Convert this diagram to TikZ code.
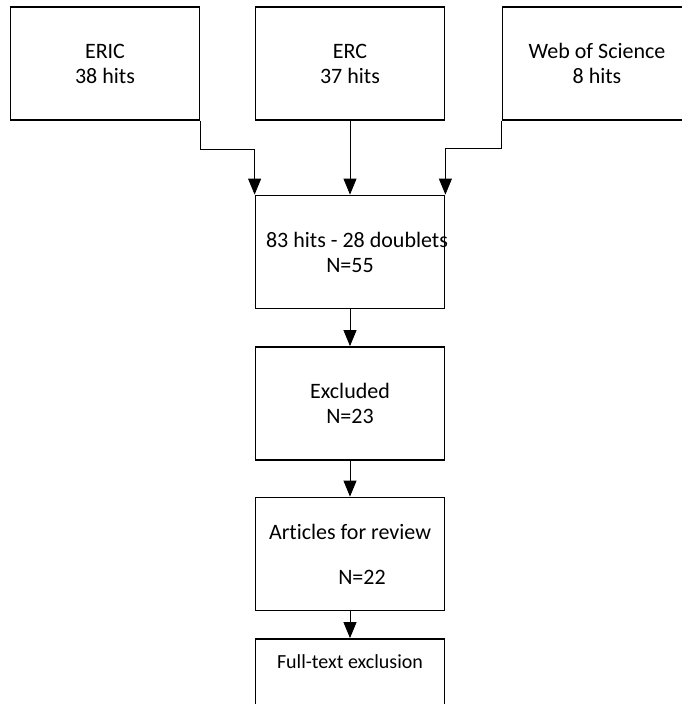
\documentclass[tikz,border=0pt]{standalone}
\usepackage{fontspec}
\setmainfont{Carlito}[Ligatures=NoCommon]
\usetikzlibrary{arrows.meta}
\tikzset{
    source/.style = {rectangle, minimum width=189pt, minimum height=113pt, align=center, draw=black, line width=1.8pt, font=\fontsize{22}{25}\selectfont},
    process/.style = {rectangle, minimum width=189pt, minimum height=113pt, align=center, draw=black, line width=1.8pt, font=\fontsize{22}{25}\selectfont},
    smallbox/.style = {process, font=\fontsize{20}{23}\selectfont, inner sep=4pt, text height=25pt, text depth=80pt},
    arrow/.style = {line width=0.8pt, -{Triangle[width=13pt,length=16pt]}}
}
\begin{document}
\begin{tikzpicture}
\path[use as bounding box] (0,0) rectangle (682pt,-704pt);
\clip (0,0) rectangle (682pt,-704pt);

\node (erc) [source] at (350pt,-63.5pt) {ERC\\37 hits};
\node (eric) [source, left of=erc, node distance=245pt] {ERIC\\38 hits};
\node (wos) [source, right of=erc, node distance=247pt] {Web of Science\\8 hits};
\node (merged) [process, below of=erc, node distance=188.5pt] {\makebox[0pt]{\hspace*{14pt}83 hits - 28 doublets}\\N=55};
\node (excluded) [process, below of=merged, node distance=151.5pt] {Excluded\\N=23};
\node (articles) [process, below of=excluded, node distance=150.5pt] {Articles for review\\[20pt]\hspace*{24pt}N=22};
\node (fulltext) [smallbox, below of=articles, node distance=141.5pt] {Full-text exclusion};

\draw [arrow] (eric.south east) -- ++(0,-28pt) -| (merged.north west);
\draw [arrow] (erc) -- (merged);
\draw [arrow] (wos.south west) -- ++(0,-27pt) -| (merged.north east);
\draw [arrow] (merged) -- (excluded);
\draw [arrow] (excluded) -- (articles);
\draw [arrow] (articles) -- (fulltext);
\end{tikzpicture}
\end{document}
